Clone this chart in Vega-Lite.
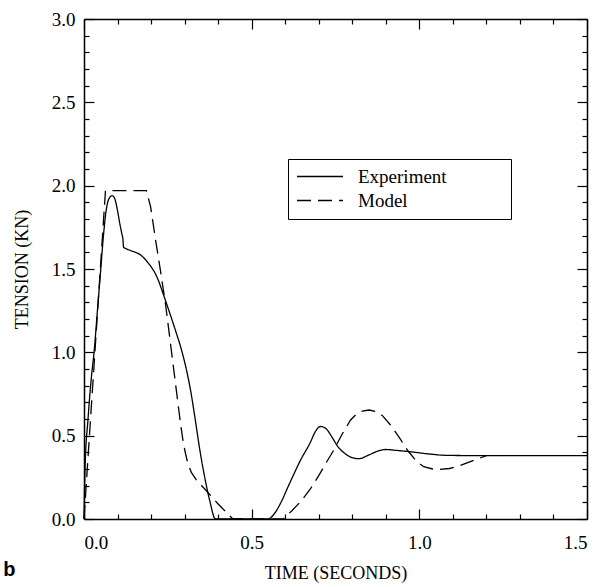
{
  "$schema": "https://vega.github.io/schema/vega-lite/v6.json",
  "width": 503,
  "height": 500,
  "autosize": "none",
  "padding": {"left": 84, "top": 19, "right": 21, "bottom": 68},
  "background": "white",
  "config": {
    "view": {"stroke": null},
    "axis": {"labelFont": "Liberation Serif", "titleFont": "Liberation Serif", "labelColor": "black", "titleColor": "black", "domainColor": "black", "tickColor": "black", "grid": false, "titleFontWeight": "normal"}
  },
  "title": {"text": "b", "orient": "bottom", "anchor": "start", "frame": "bounds", "font": "Liberation Sans", "fontWeight": "bold", "fontSize": 20, "color": "black", "offset": -22, "dx": -10},
  "datasets": {
    "exp": [
      {"t": 0, "v": 0, "series": "Experiment"},
      {"t": 0.003, "v": 0.3, "series": "Experiment"},
      {"t": 0.012, "v": 0.6, "series": "Experiment"},
      {"t": 0.022, "v": 0.85, "series": "Experiment"},
      {"t": 0.03, "v": 1.0, "series": "Experiment"},
      {"t": 0.04, "v": 1.25, "series": "Experiment"},
      {"t": 0.05, "v": 1.5, "series": "Experiment"},
      {"t": 0.058, "v": 1.7, "series": "Experiment"},
      {"t": 0.066, "v": 1.85, "series": "Experiment"},
      {"t": 0.074, "v": 1.92, "series": "Experiment"},
      {"t": 0.084, "v": 1.94, "series": "Experiment"},
      {"t": 0.092, "v": 1.92, "series": "Experiment"},
      {"t": 0.1, "v": 1.85, "series": "Experiment"},
      {"t": 0.107, "v": 1.77, "series": "Experiment"},
      {"t": 0.113, "v": 1.71, "series": "Experiment"},
      {"t": 0.116, "v": 1.68, "series": "Experiment"},
      {"t": 0.118, "v": 1.63, "series": "Experiment"},
      {"t": 0.122, "v": 1.625, "series": "Experiment"},
      {"t": 0.14, "v": 1.61, "series": "Experiment"},
      {"t": 0.168, "v": 1.585, "series": "Experiment"},
      {"t": 0.19, "v": 1.54, "series": "Experiment"},
      {"t": 0.218, "v": 1.45, "series": "Experiment"},
      {"t": 0.238, "v": 1.34, "series": "Experiment"},
      {"t": 0.255, "v": 1.24, "series": "Experiment"},
      {"t": 0.273, "v": 1.13, "series": "Experiment"},
      {"t": 0.29, "v": 1.02, "series": "Experiment"},
      {"t": 0.305, "v": 0.9, "series": "Experiment"},
      {"t": 0.318, "v": 0.77, "series": "Experiment"},
      {"t": 0.333, "v": 0.58, "series": "Experiment"},
      {"t": 0.345, "v": 0.42, "series": "Experiment"},
      {"t": 0.36, "v": 0.25, "series": "Experiment"},
      {"t": 0.375, "v": 0.11, "series": "Experiment"},
      {"t": 0.392, "v": 0, "series": "Experiment"},
      {"t": 0.548, "v": 0, "series": "Experiment"},
      {"t": 0.567, "v": 0.03, "series": "Experiment"},
      {"t": 0.586, "v": 0.094, "series": "Experiment"},
      {"t": 0.61, "v": 0.2, "series": "Experiment"},
      {"t": 0.646, "v": 0.354, "series": "Experiment"},
      {"t": 0.675, "v": 0.46, "series": "Experiment"},
      {"t": 0.69, "v": 0.525, "series": "Experiment"},
      {"t": 0.705, "v": 0.555, "series": "Experiment"},
      {"t": 0.72, "v": 0.545, "series": "Experiment"},
      {"t": 0.74, "v": 0.49, "series": "Experiment"},
      {"t": 0.755, "v": 0.44, "series": "Experiment"},
      {"t": 0.78, "v": 0.39, "series": "Experiment"},
      {"t": 0.805, "v": 0.365, "series": "Experiment"},
      {"t": 0.82, "v": 0.362, "series": "Experiment"},
      {"t": 0.85, "v": 0.385, "series": "Experiment"},
      {"t": 0.88, "v": 0.41, "series": "Experiment"},
      {"t": 0.9, "v": 0.417, "series": "Experiment"},
      {"t": 0.93, "v": 0.412, "series": "Experiment"},
      {"t": 0.975, "v": 0.403, "series": "Experiment"},
      {"t": 1.03, "v": 0.39, "series": "Experiment"},
      {"t": 1.08, "v": 0.382, "series": "Experiment"},
      {"t": 1.2, "v": 0.38, "series": "Experiment"},
      {"t": 1.5, "v": 0.38, "series": "Experiment"}
    ],
    "model": [
      {"t": 0, "v": 0, "series": "Model"},
      {"t": 0.064, "v": 1.97, "series": "Model"},
      {"t": 0.186, "v": 1.97, "series": "Model"},
      {"t": 0.199, "v": 1.87, "series": "Model"},
      {"t": 0.213, "v": 1.68, "series": "Model"},
      {"t": 0.228, "v": 1.49, "series": "Model"},
      {"t": 0.243, "v": 1.29, "series": "Model"},
      {"t": 0.255, "v": 1.1, "series": "Model"},
      {"t": 0.268, "v": 0.89, "series": "Model"},
      {"t": 0.278, "v": 0.73, "series": "Model"},
      {"t": 0.288, "v": 0.57, "series": "Model"},
      {"t": 0.296, "v": 0.46, "series": "Model"},
      {"t": 0.303, "v": 0.39, "series": "Model"},
      {"t": 0.31, "v": 0.33, "series": "Model"},
      {"t": 0.32, "v": 0.28, "series": "Model"},
      {"t": 0.335, "v": 0.235, "series": "Model"},
      {"t": 0.36, "v": 0.18, "series": "Model"},
      {"t": 0.4, "v": 0.09, "series": "Model"},
      {"t": 0.444, "v": 0, "series": "Model"},
      {"t": 0.594, "v": 0, "series": "Model"},
      {"t": 0.62, "v": 0.05, "series": "Model"},
      {"t": 0.646, "v": 0.104, "series": "Model"},
      {"t": 0.675, "v": 0.18, "series": "Model"},
      {"t": 0.7, "v": 0.26, "series": "Model"},
      {"t": 0.72, "v": 0.33, "series": "Model"},
      {"t": 0.745, "v": 0.414, "series": "Model"},
      {"t": 0.77, "v": 0.51, "series": "Model"},
      {"t": 0.795, "v": 0.594, "series": "Model"},
      {"t": 0.81, "v": 0.625, "series": "Model"},
      {"t": 0.83, "v": 0.648, "series": "Model"},
      {"t": 0.85, "v": 0.654, "series": "Model"},
      {"t": 0.87, "v": 0.645, "series": "Model"},
      {"t": 0.89, "v": 0.62, "series": "Model"},
      {"t": 0.914, "v": 0.564, "series": "Model"},
      {"t": 0.94, "v": 0.49, "series": "Model"},
      {"t": 0.964, "v": 0.414, "series": "Model"},
      {"t": 0.99, "v": 0.35, "series": "Model"},
      {"t": 1.013, "v": 0.314, "series": "Model"},
      {"t": 1.04, "v": 0.3, "series": "Model"},
      {"t": 1.06, "v": 0.297, "series": "Model"},
      {"t": 1.09, "v": 0.303, "series": "Model"},
      {"t": 1.12, "v": 0.32, "series": "Model"},
      {"t": 1.16, "v": 0.35, "series": "Model"},
      {"t": 1.2, "v": 0.38, "series": "Model"}
    ]
  },
  "resolve": {"axis": {"x": "independent", "y": "independent"}},
  "layer": [
    {
      "data": {"name": "exp"},
      "mark": {"type": "line", "interpolate": "monotone", "color": "black", "strokeWidth": 1.3},
      "encoding": {
        "x": {"field": "t", "type": "quantitative", "scale": {"domain": [0, 1.5], "nice": false},
          "axis": {"orient": "bottom", "values": [0, 0.5, 1, 1.5], "format": ".1f", "tickSize": -10, "tickWidth": 1.2, "domainWidth": 1.5, "labelFont": "Liberation Serif", "labelFontSize": 19, "labelPadding": 24, "title": "TIME (SECONDS)", "titleFont": "Liberation Serif", "titleFontSize": 18, "titlePadding": 12}},
        "y": {"field": "v", "type": "quantitative", "scale": {"domain": [0, 3], "nice": false},
          "axis": {"orient": "left", "values": [0, 0.5, 1, 1.5, 2, 2.5, 3], "format": ".1f", "tickSize": -10, "tickWidth": 1.2, "domainWidth": 1.5, "labelFont": "Liberation Serif", "labelFontSize": 19, "labelPadding": 19, "title": "TENSION (KN)", "titleFont": "Liberation Serif", "titleFontSize": 18, "titlePadding": 20}},
        "strokeDash": {"field": "series", "type": "nominal",
          "scale": {"domain": ["Experiment", "Model"], "range": [[1, 0], [14, 7]]},
          "legend": {"title": null, "orient": "none", "legendX": 204, "legendY": 140, "strokeColor": "black", "padding": 8, "symbolType": "stroke", "symbolSize": 2116, "symbolStrokeWidth": 1.3, "symbolStrokeColor": "black", "labelFont": "Liberation Serif", "labelFontSize": 19, "labelColor": "black", "labelOffset": 14, "rowPadding": 4, "clipHeight": 19, "labelExpr": "datum.label + '\u2800\u2800\u2800\u2800'"}}
      }
    },
    {
      "data": {"name": "model"},
      "mark": {"type": "line", "interpolate": "linear", "color": "black", "strokeWidth": 1.3},
      "encoding": {
        "x": {"field": "t", "type": "quantitative",
          "axis": {"orient": "bottom", "values": [0.1, 0.2, 0.3, 0.4, 0.6, 0.7, 0.8, 0.9, 1.1, 1.2, 1.3, 1.4], "tickSize": -5, "tickWidth": 1.2, "labels": false, "domain": false, "title": null}},
        "y": {"field": "v", "type": "quantitative",
          "axis": {"orient": "left", "values": [0.1, 0.2, 0.3, 0.4, 0.6, 0.7, 0.8, 0.9, 1.1, 1.2, 1.3, 1.4, 1.6, 1.7, 1.8, 1.9, 2.1, 2.2, 2.3, 2.4, 2.6, 2.7, 2.8, 2.9], "tickSize": -5, "tickWidth": 1.2, "labels": false, "domain": false, "title": null}},
        "strokeDash": {"field": "series", "type": "nominal"}
      }
    },
    {
      "data": {"name": "model"},
      "mark": {"type": "point", "opacity": 0},
      "encoding": {
        "x": {"field": "t", "type": "quantitative",
          "axis": {"orient": "top", "values": [0, 0.5, 1, 1.5], "tickSize": -10, "tickWidth": 1.2, "domainWidth": 1.5, "labels": false, "title": null}},
        "y": {"field": "v", "type": "quantitative",
          "axis": {"orient": "right", "values": [0, 0.5, 1, 1.5, 2, 2.5, 3], "tickSize": -10, "tickWidth": 1.2, "domainWidth": 1.5, "labels": false, "title": null}}
      }
    },
    {
      "data": {"name": "model"},
      "mark": {"type": "point", "opacity": 0},
      "encoding": {
        "x": {"field": "t", "type": "quantitative",
          "axis": {"orient": "top", "values": [0.1, 0.2, 0.3, 0.4, 0.6, 0.7, 0.8, 0.9, 1.1, 1.2, 1.3, 1.4], "tickSize": -5, "tickWidth": 1.2, "labels": false, "domain": false, "title": null}},
        "y": {"field": "v", "type": "quantitative",
          "axis": {"orient": "right", "values": [0.1, 0.2, 0.3, 0.4, 0.6, 0.7, 0.8, 0.9, 1.1, 1.2, 1.3, 1.4, 1.6, 1.7, 1.8, 1.9, 2.1, 2.2, 2.3, 2.4, 2.6, 2.7, 2.8, 2.9], "tickSize": -5, "tickWidth": 1.2, "labels": false, "domain": false, "title": null}}
      }
    }
  ]
}
